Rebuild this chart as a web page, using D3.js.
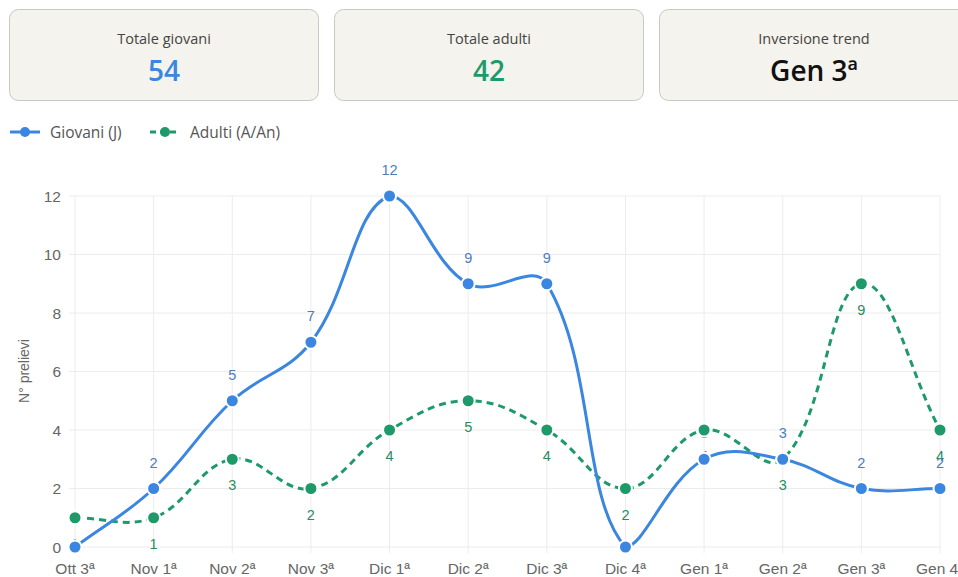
<!DOCTYPE html>
<html>
<head>
<meta charset="utf-8">
<script src="https://cdn.jsdelivr.net/npm/d3@7"></script>
<style>
  body { margin: 0; background: #fff; overflow: hidden; }
  svg { display: block; }
</style>
</head>
<body>
<svg id="chart" width="958" height="577"></svg>
<script>
var weeks = ["Ott 3ª", "Nov 1ª", "Nov 2ª", "Nov 3ª", "Dic 1ª", "Dic 2ª", "Dic 3ª", "Dic 4ª", "Gen 1ª", "Gen 2ª", "Gen 3ª", "Gen 4ª"];
var giovani = [0, 2, 5, 7, 12, 9, 9, 0, 3, 3, 2, 2];
var adulti = [1, 1, 3, 2, 4, 5, 4, 2, 4, 3, 9, 4];
var yTicks = [0, 2, 4, 6, 8, 10, 12];
var cards = [
  {title: "Totale giovani", value: "54", colour: "#3a86e0"},
  {title: "Totale adulti", value: "42", colour: "#1e9a6a"},
  {title: "Inversione trend", value: "Gen 3ª", colour: "#111"}
];

var blue = "#3a86e0", green = "#1e9a6a";
var svg = d3.select("#chart");

// kpi cards
var card = svg.selectAll(".card").data(cards).enter().append("g")
  .attr("transform", (d, i) => "translate(" + (9.5 + i * 325) + ",9.5)");
card.append("rect")
  .attr("width", 309).attr("height", 91).attr("rx", 9)
  .attr("fill", "#f4f3ed").attr("stroke", "#c9c9c4");
card.append("text")
  .attr("x", 154.5).attr("y", 34).attr("text-anchor", "middle")
  .style("font", "14.5px 'Open Sans', sans-serif").style("fill", "#444")
  .text(d => d.title);
card.append("text")
  .attr("x", 154.5).attr("y", 71).attr("text-anchor", "middle")
  .style("font", "600 28px 'Open Sans', sans-serif").style("fill", d => d.colour)
  .text(d => d.value);

// legend
var legend = [{name: "Giovani (J)", colour: blue, dash: null, x: 10},
              {name: "Adulti (A/An)", colour: green, dash: "6,4", x: 150}];
var lg = svg.selectAll(".lg").data(legend).enter().append("g")
  .attr("transform", d => "translate(" + d.x + ",132)");
lg.append("line").attr("x1", 0).attr("x2", 30)
  .attr("stroke", d => d.colour).attr("stroke-width", 3)
  .attr("stroke-dasharray", d => d.dash);
lg.append("circle").attr("cx", 15).attr("r", 5).attr("fill", d => d.colour);
lg.append("text").attr("x", 40).attr("y", 5.5)
  .style("font", "15.5px 'Open Sans', sans-serif").style("fill", "#555")
  .text(d => d.name);

// chart area
var areaLeft = 75, areaRight = 940, areaTop = 196, areaBottom = 547;
var x = d3.scalePoint().domain(weeks).range([areaLeft, areaRight]);
var y = d3.scaleLinear().domain([0, 12]).range([areaBottom, areaTop]);

var grid = svg.append("g");
grid.selectAll(".vg").data(weeks).enter().append("line")
  .attr("x1", d => x(d)).attr("x2", d => x(d))
  .attr("y1", areaTop).attr("y2", areaBottom + 6)
  .attr("stroke", "#ececec");
grid.selectAll(".hg").data(yTicks).enter().append("line")
  .attr("x1", areaLeft - 6).attr("x2", areaRight)
  .attr("y1", d => y(d)).attr("y2", d => y(d))
  .attr("stroke", "#ececec");

var axisFont = "15.5px 'Liberation Sans', Arial, sans-serif";
svg.append("g").selectAll("text").data(yTicks).enter().append("text")
  .attr("x", 61).attr("y", d => y(d) + 5.5).attr("text-anchor", "end")
  .style("font", axisFont).style("fill", "#666")
  .text(d => d);
svg.append("g").selectAll("text").data(weeks).enter().append("text")
  .attr("x", d => x(d)).attr("y", 574).attr("text-anchor", "middle")
  .style("font", axisFont).style("fill", "#666")
  .text(d => d);
svg.append("text")
  .attr("transform", "translate(29,371) rotate(-90)")
  .attr("text-anchor", "middle")
  .style("font", "14px 'Liberation Sans', Arial, sans-serif").style("fill", "#666")
  .text("N° prelievi");

// spline like chart.js (tension 0.4, control points kept inside the area)
function splinePath(pts, t) {
  var p = d3.path();
  var cap = v => Math.max(areaTop, Math.min(areaBottom, v));
  var cps = pts.map(function(cur, i) {
    var prev = pts[i - 1] || cur, next = pts[i + 1] || cur;
    var d01 = Math.hypot(cur[0] - prev[0], cur[1] - prev[1]);
    var d12 = Math.hypot(next[0] - cur[0], next[1] - cur[1]);
    var s01 = d01 / (d01 + d12) || 0, s12 = d12 / (d01 + d12) || 0;
    var fa = t * s01, fb = t * s12;
    return {
      px: cur[0] - fa * (next[0] - prev[0]), py: cap(cur[1] - fa * (next[1] - prev[1])),
      nx: cur[0] + fb * (next[0] - prev[0]), ny: cap(cur[1] + fb * (next[1] - prev[1]))
    };
  });
  p.moveTo(pts[0][0], pts[0][1]);
  for (var i = 1; i < pts.length; i++) {
    p.bezierCurveTo(cps[i - 1].nx, cps[i - 1].ny, cps[i].px, cps[i].py, pts[i][0], pts[i][1]);
  }
  return p.toString();
}

var series = [
  {values: adulti, colour: green, dash: "7,5", label: "#2b8a62", dy: 31, hideZero: false},
  {values: giovani, colour: blue, dash: null, label: "#4f7dba", dy: -21, hideZero: true}
];

series.forEach(function(s) {
  var pts = s.values.map((v, i) => [x(weeks[i]), y(v)]);
  svg.append("path")
    .attr("d", splinePath(pts, 0.4))
    .attr("fill", "none")
    .attr("stroke", s.colour).attr("stroke-width", 3)
    .attr("stroke-dasharray", s.dash);
});

// value labels first, points drawn over them
series.forEach(function(s) {
  svg.append("g").selectAll("text").data(s.values).enter().append("text")
    .attr("x", (d, i) => x(weeks[i])).attr("y", d => y(d) + s.dy)
    .attr("text-anchor", "middle")
    .style("font", "14.5px 'Liberation Sans', Arial, sans-serif").style("fill", s.label)
    .text(d => (s.hideZero && d === 0) ? "" : d);
});
series.forEach(function(s) {
  svg.append("g").selectAll("circle").data(s.values).enter().append("circle")
    .attr("cx", (d, i) => x(weeks[i])).attr("cy", d => y(d))
    .attr("r", 6.5).attr("fill", s.colour)
    .attr("stroke", "#fff").attr("stroke-width", 2);
});
</script>
</body>
</html>
